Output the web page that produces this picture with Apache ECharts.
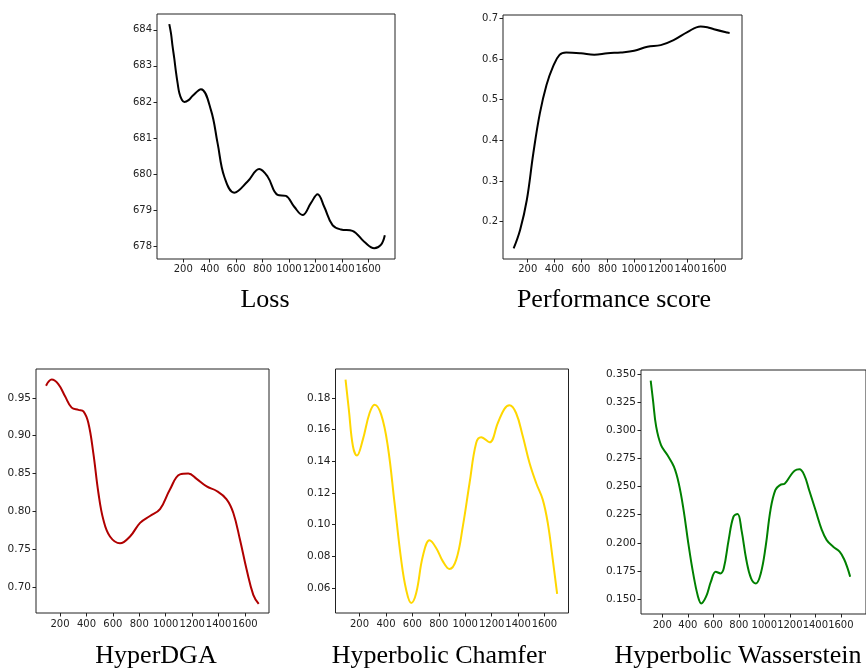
<!DOCTYPE html>
<html style="height: 100%">
<head>
    <meta charset="UTF-8">
    <title>Training curves</title>
    <script src="https://cdn.jsdelivr.net/npm/echarts@6/dist/echarts.min.js"></script>
    <style>
        #main { width: 866px; height: 671px; }
    </style>
</head>
<body style="margin: 0; background: #fff">
    <div id="main"></div>
    <script type="text/javascript">
        // values
        var lossX = [94, 107, 119, 132, 144, 157, 170, 189, 208, 240, 271, 334, 409, 460, 510, 586, 687, 775, 838, 914, 977, 1040, 1103, 1166, 1217, 1267, 1330, 1393, 1481, 1570, 1646, 1696, 1726];
        var lossY = [684.16, 683.90, 683.54, 683.20, 682.85, 682.52, 682.25, 682.06, 682.0, 682.05, 682.17, 682.35, 681.78, 680.85, 679.93, 679.48, 679.79, 680.14, 679.93, 679.42, 679.39, 679.09, 678.86, 679.19, 679.44, 679.09, 678.58, 678.46, 678.42, 678.12, 677.94, 678.03, 678.30];

        var perfX = [94, 143, 193, 242, 291, 341, 390, 439, 489, 600, 700, 800, 900, 1000, 1100, 1200, 1300, 1400, 1500, 1550, 1600, 1700, 1718];
        var perfY = [0.134, 0.180, 0.253, 0.368, 0.466, 0.536, 0.581, 0.610, 0.616, 0.614, 0.610, 0.614, 0.616, 0.620, 0.630, 0.634, 0.647, 0.666, 0.680, 0.678, 0.673, 0.665, 0.664];

        var dgaX = [94, 137, 187, 238, 288, 339, 377, 414, 452, 490, 528, 578, 654, 730, 806, 881, 957, 1032, 1108, 1171, 1234, 1310, 1386, 1461, 1512, 1562, 1613, 1663, 1704];
        var dgaY = [0.966, 0.974, 0.968, 0.952, 0.937, 0.934, 0.932, 0.917, 0.877, 0.825, 0.789, 0.767, 0.758, 0.767, 0.785, 0.794, 0.803, 0.829, 0.849, 0.850, 0.843, 0.833, 0.827, 0.816, 0.798, 0.763, 0.723, 0.690, 0.678];

        var chamX = [94, 119, 150, 180, 225, 276, 314, 364, 414, 465, 515, 553, 591, 629, 679, 730, 780, 831, 881, 932, 982, 1033, 1083, 1121, 1184, 1247, 1297, 1335, 1385, 1436, 1487, 1537, 1587, 1625, 1663, 1696];
        var chamY = [0.1916, 0.1726, 0.1495, 0.1436, 0.1537, 0.1705, 0.1758, 0.1695, 0.1495, 0.1137, 0.0779, 0.0589, 0.0505, 0.0568, 0.0800, 0.0901, 0.0853, 0.0768, 0.0720, 0.0779, 0.0989, 0.1263, 0.1516, 0.1552, 0.1520, 0.1642, 0.1731, 0.1754, 0.1705, 0.1558, 0.1389, 0.1263, 0.1158, 0.1011, 0.0779, 0.0562];

        var wassX = [109, 127, 152, 190, 240, 291, 329, 367, 404, 442, 480, 505, 543, 581, 619, 656, 682, 720, 758, 790, 821, 859, 896, 934, 972, 1010, 1048, 1086, 1123, 1161, 1199, 1237, 1275, 1313, 1351, 1401, 1451, 1489, 1540, 1590, 1628, 1653, 1673];
        var wassY = [0.3441, 0.3269, 0.3032, 0.2869, 0.2780, 0.2676, 0.2528, 0.2291, 0.1995, 0.1728, 0.1521, 0.1461, 0.1521, 0.1654, 0.1743, 0.1728, 0.1773, 0.2024, 0.2232, 0.2256, 0.2113, 0.1847, 0.1684, 0.1639, 0.1728, 0.1965, 0.2291, 0.2469, 0.2513, 0.2528, 0.2587, 0.2641, 0.2653, 0.2602, 0.2469, 0.2291, 0.2113, 0.2024, 0.1965, 0.1921, 0.1847, 0.1773, 0.1699];

        var xTicks = [200, 400, 600, 800, 1000, 1200, 1400, 1600];
        var lossTicks = [678, 679, 680, 681, 682, 683, 684];
        var perfTicks = [0.2, 0.3, 0.4, 0.5, 0.6, 0.7];
        var dgaTicks = [0.70, 0.75, 0.80, 0.85, 0.90, 0.95];
        var chamTicks = [0.06, 0.08, 0.10, 0.12, 0.14, 0.16, 0.18];
        var wassTicks = [0.150, 0.175, 0.200, 0.225, 0.250, 0.275, 0.300, 0.325, 0.350];

        var titles = ['Loss', 'Performance score', 'HyperDGA', 'Hyperbolic Chamfer', 'Hyperbolic Wasserstein'];

        function pairs(xs, ys) {
            return xs.map(function (x, i) { return [x, ys[i]]; });
        }

        var panels = [
            { grid: [157, 14, 238, 245], x: [1, 1803], y: [677.64, 684.44], yt: lossTicks, dec: 0, color: '#000000', xs: lossX, ys: lossY, big: false, title: [265, 300] },
            { grid: [503, 15, 239, 244], x: [14, 1811], y: [0.108, 0.708], yt: perfTicks, dec: 1, color: '#000000', xs: perfX, ys: perfY, big: false, title: [614, 300] },
            { grid: [36, 369, 233, 244], x: [18, 1782], y: [0.666, 0.988], yt: dgaTicks, dec: 2, color: '#b00000', xs: dgaX, ys: dgaY, big: true, title: [156, 656] },
            { grid: [335.5, 369, 233, 244], x: [18, 1782], y: [0.0442, 0.1983], yt: chamTicks, dec: 2, color: '#ffd700', xs: chamX, ys: chamY, big: true, title: [439, 656] },
            { grid: [641, 370, 233, 244], x: [33, 1797], y: [0.1367, 0.3536], yt: wassTicks, dec: 3, color: '#008000', xs: wassX, ys: wassY, big: true, title: [738, 656] }
        ];

        var chartDom = document.getElementById('main');
        var myChart = echarts.init(chartDom);

        var option = { animation: false, grid: [], xAxis: [], yAxis: [], series: [], graphic: [] };

        panels.forEach(function (p, i) {
            option.grid.push({
                left: p.grid[0], top: p.grid[1], width: p.grid[2], height: p.grid[3],
                show: true, borderColor: '#222', borderWidth: 1, containLabel: false
            });
            option.xAxis.push({
                type: 'value', gridIndex: i, min: p.x[0], max: p.x[1],
                axisLine: { show: false },
                splitLine: { show: false },
                axisTick: { show: true, customValues: xTicks, length: 3.5, lineStyle: { color: '#222' } },
                axisLabel: {
                    customValues: xTicks, margin: p.big ? 6 : 5, color: '#222', hideOverlap: false,
                    showMinLabel: true, showMaxLabel: true,
                    fontFamily: 'DejaVu Sans', fontSize: 10,
                    formatter: function (v) { return String(v); }
                }
            });
            option.yAxis.push({
                type: 'value', gridIndex: i, min: p.y[0], max: p.y[1],
                axisLine: { show: false },
                splitLine: { show: false },
                axisTick: { show: true, customValues: p.yt, length: 3.5, lineStyle: { color: '#222' } },
                axisLabel: {
                    customValues: p.yt, margin: 5, color: '#222', hideOverlap: false,
                    fontFamily: 'DejaVu Sans', fontSize: p.big ? 10.5 : 10,
                    formatter: (function (d) { return function (v) { return v.toFixed(d); }; })(p.dec)
                }
            });
            option.series.push({
                type: 'line', xAxisIndex: i, yAxisIndex: i,
                data: pairs(p.xs, p.ys),
                smooth: 0.4, showSymbol: false, symbol: 'none',
                lineStyle: { color: p.color, width: 2 }
            });
            option.graphic.push({
                type: 'text', x: p.title[0], y: p.title[1],
                style: {
                    text: titles[i], fill: '#000',
                    font: '26px "Liberation Serif", "DejaVu Serif", serif',
                    align: 'center', verticalAlign: 'middle'
                }
            });
        });

        myChart.setOption(option);
    </script>
</body>
</html>
